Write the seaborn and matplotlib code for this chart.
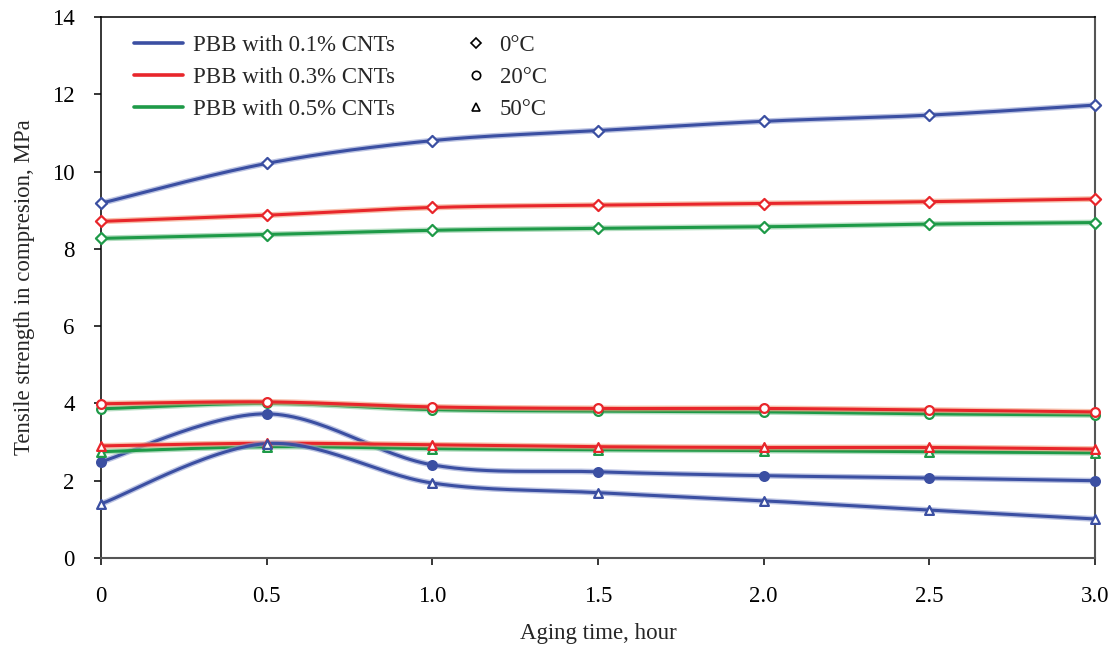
import numpy as np
import pandas as pd
import matplotlib
matplotlib.use("Agg")
import matplotlib.pyplot as plt
import matplotlib.patheffects as pe
from matplotlib.lines import Line2D
import seaborn as sns

# ---------------- data ----------------
hours = [0, 0.5, 1.0, 1.5, 2.0, 2.5, 3.0]
x_tick_labels = ["0", "0.5", "1.0", "1.5", "2.0", "2.5", "3.0"]
y_ticks = [0, 2, 4, 6, 8, 10, 12, 14]

cnt01_0C = [9.18, 10.21, 10.80, 11.06, 11.30, 11.46, 11.72]
cnt03_0C = [8.71, 8.87, 9.07, 9.13, 9.17, 9.22, 9.29]
cnt05_0C = [8.27, 8.37, 8.48, 8.53, 8.57, 8.64, 8.68]

cnt01_20C = [2.49, 3.73, 2.41, 2.23, 2.13, 2.07, 2.00]
cnt03_20C = [3.99, 4.04, 3.91, 3.87, 3.87, 3.83, 3.78]
cnt05_20C = [3.86, 4.00, 3.84, 3.80, 3.78, 3.73, 3.70]

cnt01_50C = [1.40, 2.96, 1.94, 1.69, 1.48, 1.24, 1.01]
cnt03_50C = [2.90, 2.97, 2.93, 2.88, 2.86, 2.86, 2.82]
cnt05_50C = [2.75, 2.88, 2.83, 2.80, 2.78, 2.75, 2.72]

series_labels = ["PBB with 0.1% CNTs", "PBB with 0.3% CNTs", "PBB with 0.5% CNTs"]
temp_labels = ["0°C", "20°C", "50°C"]

# ---------------- style ----------------
BLUE = "#3b4fa2"
RED = "#e8262b"
GREEN = "#1e9a48"
HALO = {BLUE: "#8f9bd0", RED: "#f39a78", GREEN: "#86c99a"}
FS = 16.5

sns.set_theme(style="white")
plt.rcParams["font.family"] = ["Liberation Serif", "DejaVu Serif"]


def smooth(xs, ys, n=30):
    """Excel-style smoothed line (Catmull-Rom as cubic Bezier) through the points."""
    P = np.column_stack([xs, ys]).astype(float)
    m = len(P)
    out = []
    for i in range(m - 1):
        p0 = P[i - 1] if i > 0 else P[i]
        p1 = P[i]
        p2 = P[i + 1]
        p3 = P[i + 2] if i + 2 < m else P[i + 1]
        c1 = p1 + (p2 - p0) / 6.0
        c2 = p2 - (p3 - p1) / 6.0
        t = np.linspace(0, 1, n, endpoint=(i == m - 2))[:, None]
        seg = ((1 - t) ** 3) * p1 + 3 * ((1 - t) ** 2) * t * c1 + 3 * (1 - t) * t ** 2 * c2 + t ** 3 * p2
        out.append(seg)
    arr = np.vstack(out)
    return arr[:, 0], arr[:, 1]


fig = plt.figure(figsize=(11.13, 6.48), dpi=100)
ax = fig.add_axes([0.0907, 0.1389, 0.9838 - 0.0907, 0.9738 - 0.1389])

groups = [
    (cnt05_0C, GREEN, "D", False), (cnt03_0C, RED, "D", False), (cnt01_0C, BLUE, "D", False),
    (cnt05_20C, GREEN, "o", False), (cnt03_20C, RED, "o", False), (cnt01_20C, BLUE, "o", True),
    (cnt05_50C, GREEN, "^", False), (cnt03_50C, RED, "^", False), (cnt01_50C, BLUE, "^", False),
]

for k, (vals, col, mk, filled) in enumerate(groups):
    sx, sy = smooth(hours, vals)
    df_line = pd.DataFrame({"x": sx, "y": sy})
    sns.lineplot(data=df_line, x="x", y="y", ax=ax, color=col, linewidth=2.2,
                 sort=False, estimator=None, zorder=3 + k * 0.01,
                 path_effects=[pe.Stroke(linewidth=4.2, foreground=HALO[col], alpha=0.6), pe.Normal()])
    df_pts = pd.DataFrame({"x": hours, "y": vals})
    sns.scatterplot(data=df_pts, x="x", y="y", ax=ax, marker=mk,
                    s=40 if mk != "D" else 32,
                    color=col if filled else "white", edgecolor=col, linewidth=1.6,
                    zorder=5, clip_on=False)

ax.set_xlim(0, 3.0)
ax.set_ylim(0, 14)
ax.set_xticks(hours)
ax.set_xticklabels(x_tick_labels)
ax.set_yticks(y_ticks)
ax.set_yticklabels([str(v) for v in y_ticks])
ax.tick_params(axis="both", which="major", direction="out", length=5, width=1.1,
               labelsize=FS, colors="black", bottom=True, left=True)
ax.tick_params(axis="x", pad=15)
ax.tick_params(axis="y", pad=14)

for side in ["left", "top"]:
    ax.spines[side].set_color("black")
    ax.spines[side].set_linewidth(1.1)
for side in ["right", "bottom"]:
    ax.spines[side].set_color("#555555")
    ax.spines[side].set_linewidth(1.5)
for s in ax.spines.values():
    s.set_visible(True)

ax.set_xlabel("Aging time, hour", fontsize=FS, labelpad=12)
ax.set_ylabel("Tensile strength in compresion, MPa", fontsize=FS, labelpad=12)

line_handles = [Line2D([], [], color=c, linewidth=2.6) for c in (BLUE, RED, GREEN)]
marker_handles = [Line2D([], [], linestyle="none", marker=m, markersize=ms, markerfacecolor="white",
                         markeredgecolor="black", markeredgewidth=1.2)
                  for m, ms in (("D", 5.5), ("o", 6), ("^", 6))]
leg1 = ax.legend(line_handles, series_labels, loc="upper left",
                 bbox_to_anchor=(0.024, 0.983), borderaxespad=0, frameon=False,
                 fontsize=FS, handlelength=2.14, handletextpad=0.44, labelspacing=0.46)
ax.add_artist(leg1)
ax.legend(marker_handles, temp_labels, loc="upper left",
          bbox_to_anchor=(0.354, 0.983), borderaxespad=0, frameon=False,
          fontsize=FS, handlelength=1.2, handletextpad=0.44, labelspacing=0.46)

fig.savefig("out.png", dpi=100)
